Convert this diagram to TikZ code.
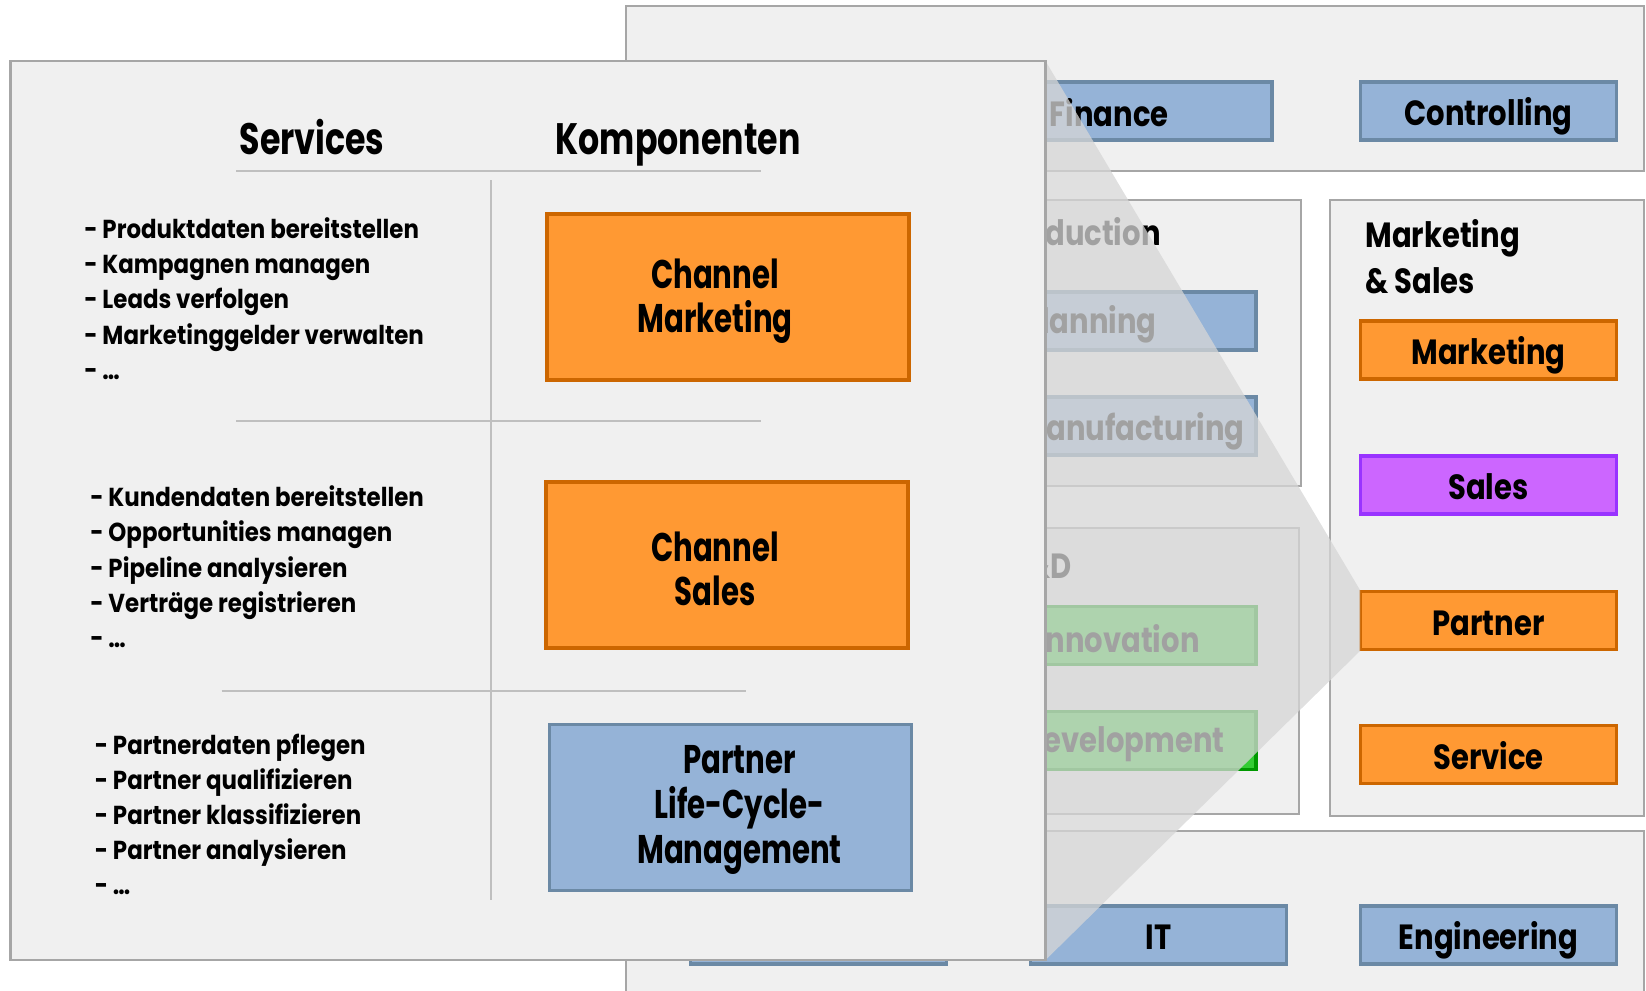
\documentclass[tikz,border=0pt]{standalone}
\usepackage{fontspec}
\setmainfont{Poppins}[FakeStretch=0.88]
\newfontfamily\unitfont{Poppins}[FakeStretch=0.83]
\newfontfamily\compfont{Poppins}[FakeStretch=0.73]
\newfontfamily\headfont{Poppins}[FakeStretch=0.755]
\usetikzlibrary{positioning}
\definecolor{panelfill}{HTML}{F0F0F0}
\definecolor{paneldraw}{HTML}{A6A6A6}
\definecolor{rulegray}{HTML}{BFBFBF}
\definecolor{orfill}{HTML}{FF9933}
\definecolor{ordraw}{HTML}{CC6600}
\definecolor{blfill}{HTML}{95B3D7}
\definecolor{bldraw}{HTML}{6B89A5}
\definecolor{pufill}{HTML}{CC66FF}
\definecolor{pudraw}{HTML}{9933FF}
\definecolor{grfill}{HTML}{33CC33}
\definecolor{grdraw}{HTML}{009900}
\definecolor{zoomgray}{HTML}{D6D6D6}

\begin{document}
\begin{tikzpicture}[x=0.5pt,y=-0.5pt,
    panel/.style={draw=paneldraw, fill=panelfill, line width=1.4pt},
    unit/.style={draw, line width=1.6pt, minimum width=128pt, minimum height=29pt, inner sep=0pt,
                 text height=14.5pt, text depth=0pt, font=\unitfont\fontsize{17.5}{20}\selectfont\bfseries},
    orangebox/.style={fill=orfill, draw=ordraw},
    bluebox/.style={fill=blfill, draw=bldraw},
    purplebox/.style={fill=pufill, draw=pudraw},
    greenbox/.style={fill=grfill, draw=grdraw},
    title/.style={inner sep=0pt, font=\unitfont\fontsize{17.5}{23}\selectfont\bfseries},
    head/.style={inner sep=0pt, font=\headfont\fontsize{22}{24}\selectfont\bfseries},
    item/.style={inner sep=0pt, font=\fontsize{13}{15}\selectfont\bfseries},
    comp/.style={draw, line width=1.8pt, minimum width=181pt, minimum height=83pt},
    comptext/.style={inner sep=0pt, align=center, font=\compfont\fontsize{20}{22.3}\selectfont\bfseries},
    rule/.style={draw=rulegray, line width=1pt}]

    \useasboundingbox (0,0) rectangle (1646,991);

    % map in the back
    \draw[panel] (626,6) rectangle (1644,171);
    \draw[panel] (660,200) rectangle (1301,486);
    \draw[panel] (660,528) rectangle (1299,814);
    \draw[panel] (1330,200) rectangle (1644,816);
    \draw[panel] (626,831) rectangle (1644,1010);

    \node[unit,bluebox,minimum width=162pt] (fin) at (1110,111) {};
    \node[unit,bluebox] (ctrl) at (1488.5,111) {Controlling};

    \node[unit,bluebox,minimum width=148pt] (pln) at (1108,321) {};
    \node[unit,bluebox,minimum width=148pt] (man) at (1108,426) {};
    \node[unit,greenbox,minimum width=148pt] (inn) at (1108,635.6) {};
    \node[unit,greenbox,minimum width=148pt] (dev) at (1108,740.6) {};

    \node[title,anchor=base east] (finT) at (1169,126) {Finance};
    \node[title,anchor=base east] (prodT) at (1161,245.6) {Production};
    \node[title,anchor=base east] (plnT) at (1157,333) {Planning};
    \node[title,anchor=base east] (manT) at (1245,440) {Manufacturing};
    \node[title,anchor=base east] (rdT) at (1072,578) {R\&D};
    \node[title,anchor=base east] (innT) at (1200,652) {Innovation};
    \node[title,anchor=base east] (devT) at (1225,752) {Development};

    \node[title,anchor=north west,align=left] (msT) at (1365,219) {Marketing\\\& Sales};
    \foreach \n/\y/\c/\t in {mkt/350/orangebox/Marketing, sal/485/purplebox/Sales,
                             prt/620.5/orangebox/Partner, srv/754.5/orangebox/Service}{
        \node[unit,\c] (\n) at (1488.5,\y) {\t};
    }

    \node[unit,bluebox] (hr) at (818.5,935) {};
    \node[unit,bluebox] (it) at (1158.5,935) {IT};
    \node[unit,bluebox] (eng) at (1488.5,935) {Engineering};

    % zoom shade
    \fill[zoomgray,opacity=0.755] (1045.5,61) -- (1360,590) -- (1360,651) -- (1045.5,960) -- cycle;

    % front sheet
    \draw[panel] (10.5,61) rectangle (1045.5,960);

    \node[head,anchor=base] (svc) at (312,154) {Services};
    \node[head,anchor=base] (kmp) at (678,154) {Komponenten};

    \draw[rule] (236,171) -- (761,171);
    \draw[rule] (491,180) -- (491,900);
    \draw[rule] (236,421) -- (761,421);
    \draw[rule] (221.5,691) -- (746,691);

    \foreach \t [count=\i] in {- Produktdaten bereitstellen, - Kampagnen managen, - Leads verfolgen,
                               - Marketinggelder verwalten, {- \ldots}}{
        \node[item,anchor=base west] (mk\i) at (84,{238+35.4*(\i-1)}) {\t};
    }
    \foreach \t [count=\i] in {- Kundendaten bereitstellen, - Opportunities managen, - Pipeline analysieren,
                               - Verträge registrieren, {- \ldots}}{
        \node[item,anchor=base west] (sl\i) at (90,{506.6+35.3*(\i-1)}) {\t};
    }
    \foreach \t [count=\i] in {- Partnerdaten pflegen, - Partner qualifizieren, - Partner klassifizieren,
                               - Partner analysieren, {- \ldots}}{
        \node[item,anchor=base west] (pl\i) at (94.5,{754+35*(\i-1)}) {\t};
    }

    \node[comp,orangebox] (cm) at (728,297) {};
    \node[comp,orangebox] (cs) at (727,565) {};
    \node[comp,bluebox] (plcm) at (730.5,807.5) {};
    \node[comptext] (cmT) at (715,301) {Channel\\Marketing};
    \node[comptext] (csT) at (715,569) {Channel\\Sales};
    \node[comptext] (plcmT) at (739.5,810) {Partner\\Life-Cycle-\\Management};
\end{tikzpicture}
\end{document}
